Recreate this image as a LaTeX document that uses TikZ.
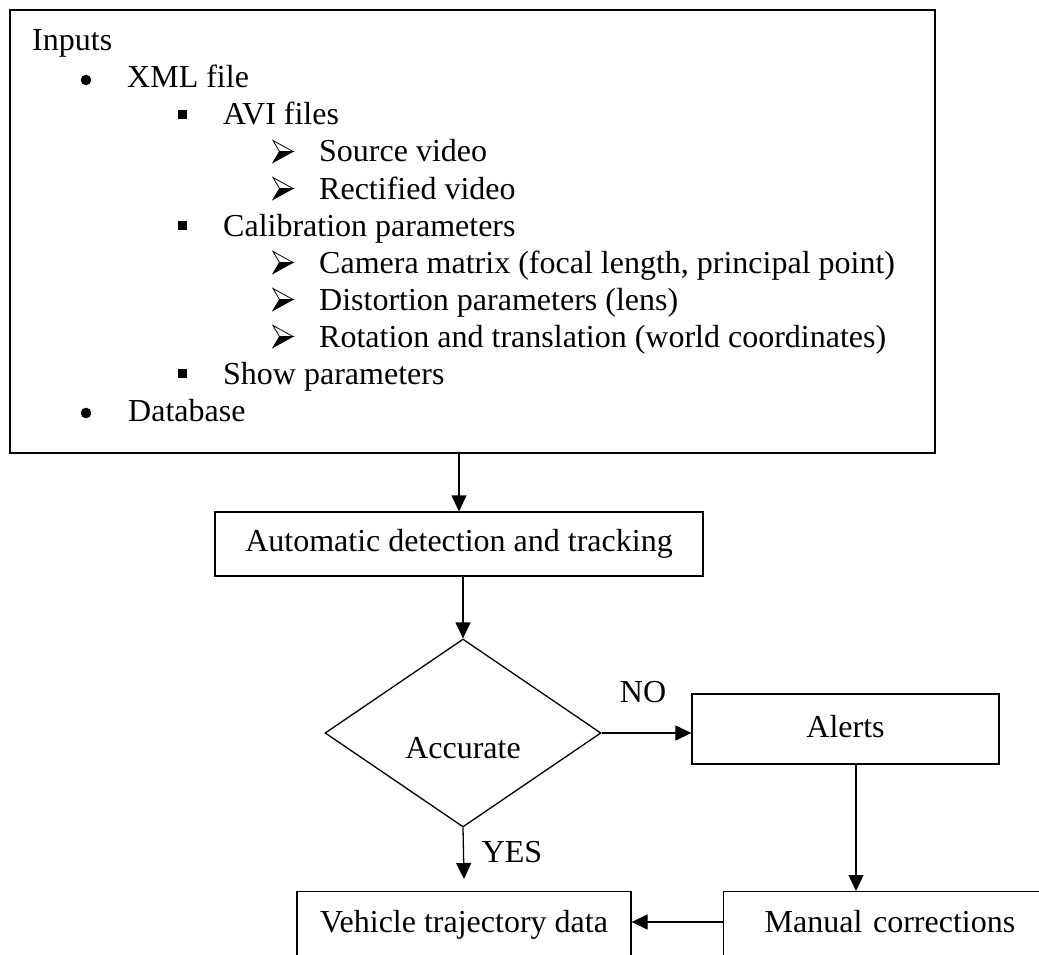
\documentclass[tikz,border=0pt]{standalone}
\usepackage{fontspec}
\setmainfont{Liberation Serif}
\usetikzlibrary{arrows.meta,shapes.geometric}
\newcommand\roundbul[2]{\fill (#1,{#2-8}) circle (5.3);}
\newcommand\sqbul[2]{\fill ({#1-4.5},{#2-15}) rectangle ++(9,9);}
\newcommand\arrbul[2]{%
  \filldraw[fill=white,line width=0.8pt,line join=miter] (#1,{#2-21.5}) -- ({#1+20},{#2-10.5}) -- ({#1+6.5},{#2-10.5}) -- cycle;
  \filldraw[line width=0.8pt,line join=miter] ({#1+6.5},{#2-10.5}) -- ({#1+20},{#2-10.5}) -- (#1,{#2+0.5}) -- cycle;}
\tikzset{
  txt/.style={font=\fontsize{32}{37}\selectfont, inner sep=0pt},
  item/.style={txt, anchor=base west},
  box/.style={txt, draw, line width=1.3pt},
  arr/.style={line width=1.3pt, -{Triangle[length=16pt,width=15pt]}},
}
\begin{document}
\begin{tikzpicture}[x=1pt,y=-1pt]
\useasboundingbox (0,0) rectangle (1039,955);
\fill[white] (0,0) rectangle (1039,955);
\clip (0,0) rectangle (1039,955);
% inputs box
\node[draw, line width=1.6pt, inner sep=0pt, minimum width=925pt, minimum height=443pt] (inputs) at (472.5,231.5) {};
\node[item] (t0) at (32,51) {Inputs};
\roundbul{86}{88}
\node[item] (t1) at (127,88) {XML file};
\sqbul{182.5}{125}
\node[item] (t2) at (223,125) {AVI files};
\arrbul{273}{162}
\node[item] (t3) at (319,162) {Source video};
\arrbul{273}{199}
\node[item] (t4) at (319,199) {Rectified video};
\sqbul{182.5}{236}
\node[item] (t5) at (223,236) {Calibration parameters};
\arrbul{273}{273}
\node[item] (t6) at (319,273) {Camera matrix (focal length, principal point)};
\arrbul{273}{310}
\node[item] (t7) at (319,310) {Distortion parameters (lens)};
\arrbul{273}{347}
\node[item] (t8) at (319,347) {Rotation and translation (world coordinates)};
\sqbul{182.5}{384}
\node[item] (t9) at (223,384) {Show parameters};
\roundbul{86}{421}
\node[item] (t10) at (128,421) {Database};
% flowchart
\node[box, minimum width=488pt, minimum height=64pt] (adt) at (459,544) {Automatic detection and tracking};
\node[draw, line width=1.3pt, diamond, inner sep=0pt, minimum width=276pt, minimum height=188pt] (dia) at (463,733) {};
\node[item, anchor=base] (acc) at (463,758) {Accurate};
\node[box, text depth=6pt, minimum width=307pt, minimum height=70pt] (alerts) at (845.5,729) {Alerts};
\node[box, anchor=north, text height=41pt, text depth=80pt, minimum width=334pt] (vehicle) at (464,891) {Vehicle trajectory data};
\node[box, anchor=north west, text height=41pt, text depth=80pt, inner xsep=41pt, text width=400pt, align=left] (manual) at (723,891) {Manual corrections};
\node[txt] (no) at (643,692) {NO};
\node[txt] (yes) at (512,852) {YES};
\coordinate (yesend) at (464,879);
\draw[arr] (inputs.south -| adt.north) -- (adt.north);
\draw[arr] (adt.south -| dia.north) -- (dia.north);
\draw[arr] (dia.east) -- (alerts.west |- dia.east);
\draw[arr] (alerts.south -| 856,0) -- (manual.north -| 856,0);
\draw[arr] (dia.south) -- (yesend);
\draw[arr] (manual.west |- 0,922) -- (vehicle.east |- 0,922);
\end{tikzpicture}
\end{document}
